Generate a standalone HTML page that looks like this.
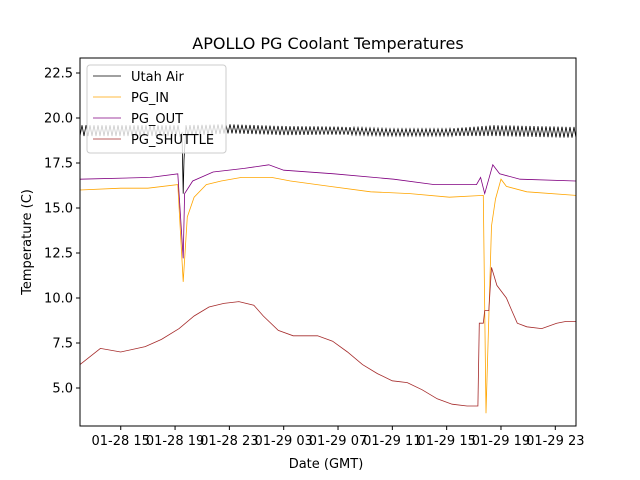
<!DOCTYPE html>
<html><head><meta charset="utf-8"><style>
body{margin:0;background:#fff}
svg{display:block;font-family:"DejaVu Sans","Liberation Sans",sans-serif}
</style></head><body>
<svg id="chart" width="640" height="480" viewBox="0 0 640 480">
<rect width="640" height="480" fill="#fff"/>
<text x="328" y="49" text-anchor="middle" font-size="16">APOLLO PG Coolant Temperatures</text>
<g id="plot"></g>
<rect x="80" y="58" width="496" height="368" fill="none" stroke="#000" stroke-width="1"/>
<g id="axes"></g>
<text x="326" y="468" text-anchor="middle" font-size="13">Date (GMT)</text>
<text transform="translate(31,242) rotate(-90)" text-anchor="middle" font-size="13">Temperature (C)</text>
<g>
<rect x="87" y="65" width="139" height="88" rx="3" fill="#fff" fill-opacity="0.8" stroke="#ccc"/>
<line x1="93" y1="76" x2="121" y2="76" stroke="#000" stroke-width="0.8"/>
<text x="131" y="81" font-size="13">Utah Air</text>
<line x1="93" y1="97" x2="121" y2="97" stroke="orange" stroke-width="0.8"/>
<text x="131" y="102" font-size="13">PG_IN</text>
<line x1="93" y1="118" x2="121" y2="118" stroke="purple" stroke-width="0.8"/>
<text x="131" y="123" font-size="13">PG_OUT</text>
<line x1="93" y1="139" x2="121" y2="139" stroke="brown" stroke-width="0.8"/>
<text x="131" y="144" font-size="13">PG_SHUTTLE</text>
</g>
</svg>
<script>
// hours since 01-28 00:00
const shuttleH=[12,13.5,15,16.8,18,19.3,20.4,21.5,22.6,23.7,24.8,25.5,26.6,27.7,29.5,30.6,31.7,32.8,33.9,35,36.1,37.2,38.3,39.4,40.5,41.3,41.4,41.7,41.8,42.1,42.3,42.7,43.4,43.8,44.2,44.9,46,47.1,47.8,48.5];
const shuttleT=[6.3,7.2,7.0,7.3,7.7,8.3,9.0,9.5,9.7,9.8,9.6,9.0,8.2,7.9,7.9,7.6,7.0,6.3,5.8,5.4,5.3,4.9,4.4,4.1,4.0,4.0,8.6,8.6,9.3,9.3,11.7,10.7,10.0,9.3,8.6,8.4,8.3,8.6,8.7,8.7];
const inH=[12,15,17,19.2,19.6,19.9,20.4,21.3,22.4,23.9,26.1,27.5,30.4,33.4,36.3,39.2,41.7,41.9,42.3,42.6,43.0,43.4,44.9,48.5];
const inT=[16.0,16.1,16.1,16.3,10.9,14.5,15.6,16.3,16.5,16.7,16.7,16.5,16.2,15.9,15.8,15.6,15.7,3.6,14.0,15.5,16.6,16.2,15.9,15.7];
const outH=[12,17.2,19.2,19.6,19.7,20.3,21.8,24.1,25.9,27.0,30.7,35.1,38.1,41.2,41.5,41.8,42.4,42.9,44.4,48.5];
const outT=[16.6,16.7,16.9,12.2,15.8,16.5,17.0,17.2,17.4,17.1,16.9,16.6,16.3,16.3,16.7,15.8,17.4,16.9,16.6,16.5];
const airH=[12,16,19.5,19.6,19.7,23,27,31,35,39,42.5,48.5];
const airT=[19.3,19.3,19.3,15.8,19.3,19.4,19.3,19.3,19.2,19.2,19.3,19.2];
const airAmp=[0.3,0.3,0.3,0,0.3,0.25,0.25,0.22,0.2,0.2,0.3,0.3];
const yTicks=[5.0,7.5,10.0,12.5,15.0,17.5,20.0,22.5];
const xTickH=[15,19,23,27,31,35,39,43,47];
const xTickLabels=["01-28 15","01-28 19","01-28 23","01-29 03","01-29 07","01-29 11","01-29 15","01-29 19","01-29 23"];

const X=h=>80+(h-12)*13.58;
const Y=t=>388-(t-5)*18;
const NS="http://www.w3.org/2000/svg";
const plot=document.getElementById('plot'), axes=document.getElementById('axes');
function interp(hs,vs,h){for(let i=1;i<hs.length;i++){if(h<=hs[i]){const f=(h-hs[i-1])/((hs[i]-hs[i-1])||1);return vs[i-1]+f*(vs[i]-vs[i-1]);}}return vs[vs.length-1];}
function poly(pts,color,name){const p=document.createElementNS(NS,'polyline');
p.setAttribute('points',pts.map(q=>q[0].toFixed(1)+','+q[1].toFixed(1)).join(' '));
p.setAttribute('fill','none');p.setAttribute('stroke',color);p.setAttribute('stroke-width','0.8');


plot.appendChild(p);}
// Utah air: mean + oscillation amplitude
{const pts=[];let k=0;for(let x=80;x<=576;x+=2,k++){const h=12+(x-80)/13.58;const m=interp(airH,airT,h),a=interp(airH,airAmp,h);pts.push([x,Y(m+(k%2?a:-a))]);}
const dx=X(airH[3]);const idx=pts.findIndex(p=>p[0]>dx);pts.splice(idx,0,[dx,Y(airT[3])]);poly(pts,'#000','utah-air-line');}
poly(inH.map((h,i)=>[X(h),Y(inT[i])]),'orange','pg-in-line');
poly(outH.map((h,i)=>[X(h),Y(outT[i])]),'purple','pg-out-line');
poly(shuttleH.map((h,i)=>[X(h),Y(shuttleT[i])]),'brown','pg-shuttle-line');
yTicks.forEach(t=>{const y=Y(t);const l=document.createElementNS(NS,'line');
l.setAttribute('x1',76);l.setAttribute('x2',80);l.setAttribute('y1',y);l.setAttribute('y2',y);l.setAttribute('stroke','#000');


axes.appendChild(l);
const tx=document.createElementNS(NS,'text');tx.setAttribute('x',73);tx.setAttribute('y',y+4.5);tx.setAttribute('text-anchor','end');tx.setAttribute('font-size','13');tx.textContent=t.toFixed(1);


axes.appendChild(tx);});
xTickH.forEach((h,i)=>{const x=X(h);const l=document.createElementNS(NS,'line');
l.setAttribute('x1',x);l.setAttribute('x2',x);l.setAttribute('y1',426);l.setAttribute('y2',430);l.setAttribute('stroke','#000');


axes.appendChild(l);
const tx=document.createElementNS(NS,'text');tx.setAttribute('x',x);tx.setAttribute('y',445);tx.setAttribute('text-anchor','middle');tx.setAttribute('font-size','13');tx.textContent=xTickLabels[i];


axes.appendChild(tx);});
</script>
</body></html>
